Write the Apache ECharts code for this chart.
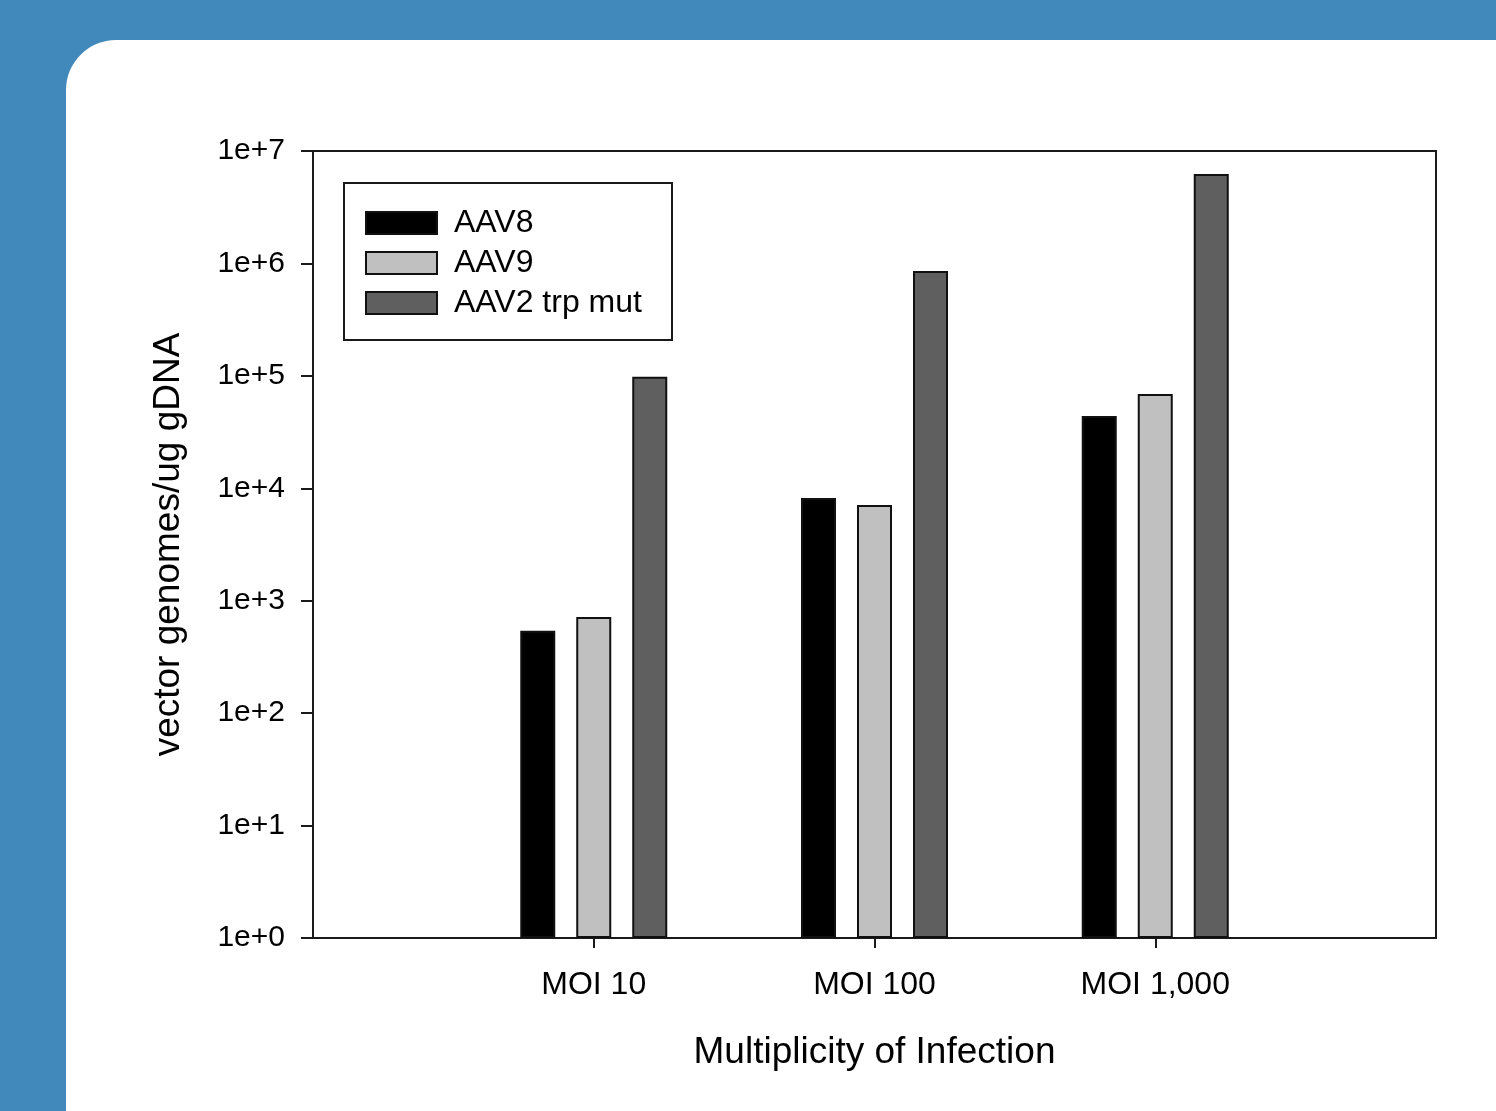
<!DOCTYPE html>
<html>
<head>
<meta charset="utf-8">
<script src="https://cdn.jsdelivr.net/npm/echarts@6/dist/echarts.min.js"></script>
<style>
  html, body { margin: 0; padding: 0; width: 1496px; height: 1111px; overflow: hidden; background: #4189bb; }
  #panel { position: absolute; left: 66px; top: 40px; right: 0; bottom: 0; background: #fff; border-top-left-radius: 50px; }
  #chart { position: absolute; left: 0; top: 0; width: 1496px; height: 1111px; }
</style>
</head>
<body>
<div id="panel"></div>
<div id="chart"></div>
<script>
const categories = ['', 'MOI 10', 'MOI 100', 'MOI 1,000', ''];
const seriesNames = ['AAV8', 'AAV9', 'AAV2 trp mut'];
const aav8 = ['-', 540, 8200, 44000, '-'];
const aav9 = ['-', 716, 7100, 69000, '-'];
const aav2trp = ['-', 98000, 857000, 6240000, '-'];
const yTickLabels = ['1e+0','1e+1','1e+2','1e+3','1e+4','1e+5','1e+6','1e+7'];
const colors = ['#000000', '#c0c0c0', '#5f5f5f'];

const font = "'Liberation Sans', Arial, Helvetica, sans-serif";
const chart = echarts.init(document.getElementById('chart'), null, { renderer: 'canvas' });
const seriesData = [aav8, aav9, aav2trp];

chart.setOption({
  backgroundColor: 'transparent',
  animation: false,
  textStyle: { fontFamily: font },
  grid: { left: 313, top: 151, right: 60, bottom: 173, show: true, borderColor: '#1a1a1a', borderWidth: 2, backgroundColor: 'transparent' },
  legend: {
    orient: 'vertical', left: 365, top: 207, padding: 0,
    itemWidth: 71, itemHeight: 22, itemGap: 8,
    icon: 'rect',
    textStyle: { fontSize: 32, color: '#000', fontFamily: font, padding: [0, 0, 0, 12] },
    data: seriesNames
  },
  graphic: [{
    type: 'rect', shape: { x: 344, y: 183, width: 328, height: 157 },
    style: { fill: 'none', stroke: '#1a1a1a', lineWidth: 2 }, z: 10
  }],
  xAxis: {
    type: 'category', data: categories, boundaryGap: false,
    axisLine: { lineStyle: { color: '#1a1a1a', width: 2 } },
    axisTick: { show: true, length: 10, interval: (i) => i >= 1 && i <= 3, lineStyle: { color: '#1a1a1a', width: 2 } },
    axisLabel: { fontSize: 32, color: '#000', margin: 31, fontFamily: font, interval: 0 },
    name: 'Multiplicity of Infection', nameLocation: 'middle', nameGap: 96,
    nameTextStyle: { fontSize: 37, color: '#000', fontFamily: font },
    splitLine: { show: false }
  },
  yAxis: {
    type: 'log', logBase: 10, min: 1, max: 1e7,
    axisLine: { show: true, lineStyle: { color: '#1a1a1a', width: 2 } },
    axisTick: { show: true, length: 12, lineStyle: { color: '#1a1a1a', width: 2 } },
    axisLabel: { fontSize: 30, color: '#000', margin: 28, fontFamily: font,
      formatter: (v) => yTickLabels[Math.round(Math.log10(v))] },
    minorTick: { show: false },
    splitLine: { show: false },
    name: 'vector genomes/ug gDNA', nameLocation: 'middle', nameGap: 126,
    nameTextStyle: { fontSize: 37, color: '#000', fontFamily: font }
  },
  series: seriesNames.map((n, k) => ({
    name: n, type: 'bar', data: seriesData[k],
    barWidth: 35, barGap: '60%',
    itemStyle: { color: colors[k], borderColor: '#111', borderWidth: 2 }
  }))
});
</script>
</body>
</html>
